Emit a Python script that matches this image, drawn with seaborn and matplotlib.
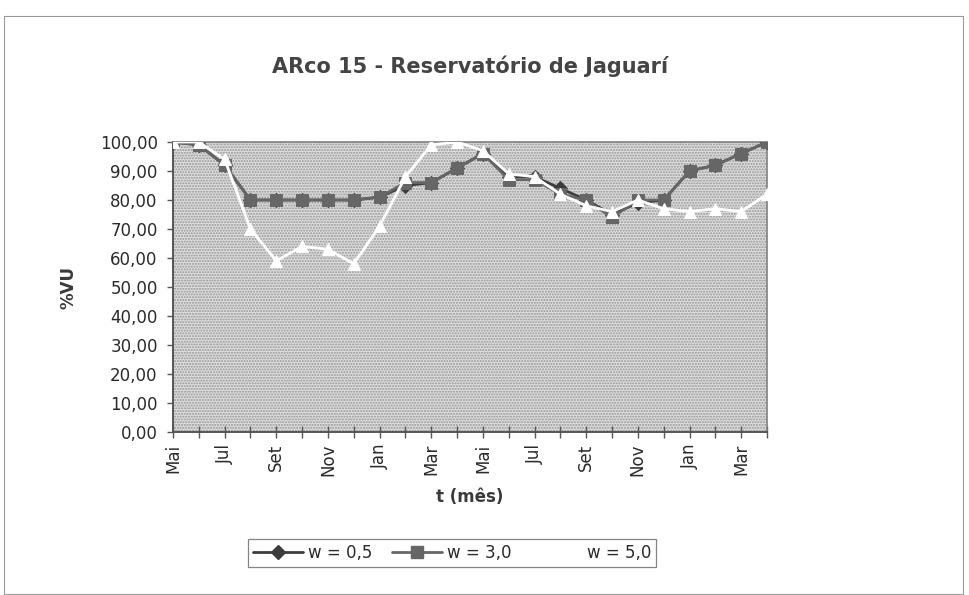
import matplotlib
matplotlib.use("Agg")
import matplotlib.pyplot as plt
import seaborn as sns
import numpy as np
import pandas as pd
from matplotlib.patches import Rectangle
from matplotlib.lines import Line2D
from matplotlib.ticker import FuncFormatter

meses = ["Mai", "Jun", "Jul", "Ago", "Set", "Out", "Nov", "Dez", "Jan", "Fev", "Mar", "Abr",
         "Mai", "Jun", "Jul", "Ago", "Set", "Out", "Nov", "Dez", "Jan", "Fev", "Mar", "Abr"]
w05 = [100, 99, 92, 80, 80, 80, 80, 80, 81, 85, 86, 91, 96, 88, 88, 84, 80, 75, 79, 80, 90, 92, 96, 100]
w30 = [100, 99, 92, 80, 80, 80, 80, 80, 81, 86, 86, 91, 96, 87, 87, 82, 80, 74, 80, 80, 90, 92, 96, 100]
w50 = [100, 100, 94, 70, 59, 64, 63, 58, 71, 88, 99, 100, 97, 89, 88, 82, 78, 76, 80, 77, 76, 77, 76, 82]

t = np.arange(len(meses))

sns.set_theme(style="white")
plt.rcParams["font.family"] = ["DejaVu Sans"]
plt.rcParams["hatch.linewidth"] = 1.0

W, H = 969, 595
fig = plt.figure(figsize=(W / 100, H / 100), dpi=100)
fig.patch.set_facecolor("white")

# outer chart frame
fig.patches.append(Rectangle((4 / W, 1 - 594 / H), (963 - 4) / W, (594 - 16) / H,
                             transform=fig.transFigure, fill=False,
                             edgecolor="#9a9a9a", linewidth=0.8))

ax = fig.add_axes([173 / W, 1 - 432 / H, (767 - 173) / W, (432 - 142) / H])

# stippled plot area
ax.set_facecolor("white")
ax.add_patch(Rectangle((0, 0), 1, 1, transform=ax.transAxes, facecolor="#dedede",
                       edgecolor="#949494", hatch="......", linewidth=0, zorder=0))

sns.lineplot(x=t, y=w05, ax=ax, color="#3c3c3c", marker="D", markersize=7,
             markeredgecolor="#3c3c3c", linewidth=2, zorder=3)
sns.lineplot(x=t, y=w30, ax=ax, color="#666666", marker="s", markersize=8,
             markeredgecolor="#666666", linewidth=2, zorder=4)
sns.lineplot(x=t, y=w50, ax=ax, color="white", marker="^", markersize=8,
             markeredgecolor="white", linewidth=2, zorder=5)

ax.set_xlim(0, len(meses) - 1)
ax.set_ylim(0, 100)
ax.set_yticks(np.arange(0, 101, 10))
ax.yaxis.set_major_formatter(FuncFormatter(lambda v, p: f"{v:.2f}".replace(".", ",")))
ax.set_xticks(t)
ax.set_xticklabels([m if i % 2 == 0 else "" for i, m in enumerate(meses)], rotation=90)

ax.tick_params(axis="y", which="both", left=True, direction="out", length=4, width=1,
               color="#555555", labelsize=12, labelcolor="#2a2a2a", pad=7)
ax.tick_params(axis="x", which="both", bottom=True, direction="inout", length=9, width=1,
               color="#555555", labelsize=12, labelcolor="#2a2a2a", pad=4)

for side in ["left", "bottom"]:
    ax.spines[side].set_color("#555555")
    ax.spines[side].set_linewidth(1.4)
for side in ["top", "right"]:
    ax.spines[side].set_color("#808080")
    ax.spines[side].set_linewidth(1.2)
    ax.spines[side].set_visible(True)

ax.set_xlabel("")
ax.set_ylabel("")

fig.text(470 / W, 1 - 66 / H, "ARco 15 - Reservatório de Jaguarí", ha="center", va="center",
         fontsize=15, fontweight="bold", color="#444444")
fig.text(470 / W, 1 - 497 / H, "t (mês)", ha="center", va="center",
         fontsize=12, fontweight="bold", color="#3a3a3a")
fig.text(68 / W, 1 - 287 / H, "%VU", ha="center", va="center", rotation=90,
         fontsize=12, fontweight="bold", color="#3a3a3a")

handles = [
    Line2D([], [], color="#3c3c3c", marker="D", markersize=7, linewidth=2),
    Line2D([], [], color="#666666", marker="s", markersize=8, linewidth=2),
    Line2D([], [], color="white", marker="^", markersize=8, linewidth=2),
]
leg = fig.legend(handles, ["w = 0,5", "w = 3,0", "w = 5,0"], loc="center",
                 bbox_to_anchor=(452 / W, 1 - 553 / H), ncol=3, frameon=True,
                 fancybox=False, edgecolor="#666666", fontsize=12, handlelength=3.0,
                 handletextpad=0.3, columnspacing=1.2, borderpad=0.3)
leg.get_frame().set_linewidth(0.9)
for txt in leg.get_texts():
    txt.set_color("#2a2a2a")

fig.savefig("out.png", dpi=100, facecolor="white")
